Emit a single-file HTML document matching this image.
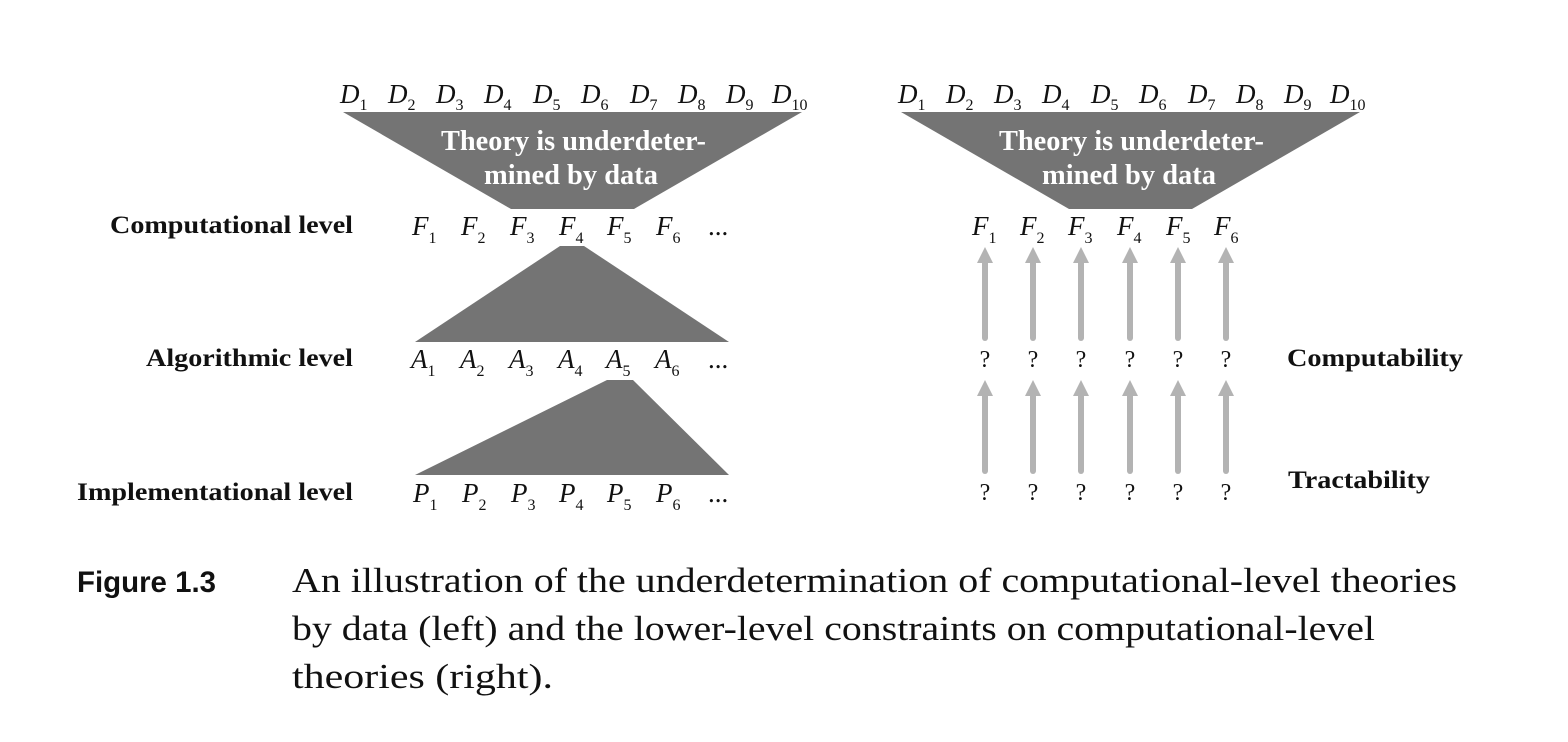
<!DOCTYPE html>
<html><head><meta charset="utf-8"><style>
html,body{margin:0;padding:0;background:#fff;}
svg{display:block;}
.it{font-family:"Liberation Serif",serif;font-style:italic;font-size:27px;fill:#111;}
.sub{font-family:"Liberation Serif",serif;font-style:normal;font-size:16px;}
.lvl{font-family:"Liberation Serif",serif;font-weight:bold;font-size:25px;fill:#111;}
.wt{font-family:"Liberation Serif",serif;font-weight:bold;font-size:28px;fill:#fff;}
.q{font-family:"Liberation Serif",serif;font-size:24px;fill:#111;}
.cap{font-family:"Liberation Serif",serif;font-size:35px;fill:#111;}
.fig{font-family:"Liberation Sans",sans-serif;font-weight:bold;font-size:30px;fill:#111;}
</style></head><body>
<svg width="1568" height="742" viewBox="0 0 1568 742">
<defs>
<g id="arr"><rect x="-3" y="259" width="6" height="82" rx="3" fill="#b3b3b3"/><polygon points="0,247 -8,263 8,263" fill="#b3b3b3"/></g>
<g id="arr2"><rect x="-3" y="392" width="6" height="82" rx="3" fill="#b3b3b3"/><polygon points="0,380 -8,396 8,396" fill="#b3b3b3"/></g>
</defs>
<polygon points="343,112 802,112 634,209 511,209" fill="#747474"/>
<text class="wt" x="441" y="150" textLength="265" lengthAdjust="spacingAndGlyphs">Theory is underdeter-</text>
<text class="wt" x="484" y="184" textLength="174" lengthAdjust="spacingAndGlyphs">mined by data</text>
<polygon points="560,246 584,246 729,342 415,342" fill="#747474"/>
<polygon points="607,380 633,380 729,475 415,475" fill="#747474"/>
<polygon points="901,112 1360,112 1192,209 1069,209" fill="#747474"/>
<text class="wt" x="999" y="150" textLength="265" lengthAdjust="spacingAndGlyphs">Theory is underdeter-</text>
<text class="wt" x="1042" y="184" textLength="174" lengthAdjust="spacingAndGlyphs">mined by data</text>
<g class="it">
<text x="340" y="103">D<tspan class="sub" dy="7">1</tspan></text>
<text x="388" y="103">D<tspan class="sub" dy="7">2</tspan></text>
<text x="436" y="103">D<tspan class="sub" dy="7">3</tspan></text>
<text x="484" y="103">D<tspan class="sub" dy="7">4</tspan></text>
<text x="533" y="103">D<tspan class="sub" dy="7">5</tspan></text>
<text x="581" y="103">D<tspan class="sub" dy="7">6</tspan></text>
<text x="630" y="103">D<tspan class="sub" dy="7">7</tspan></text>
<text x="678" y="103">D<tspan class="sub" dy="7">8</tspan></text>
<text x="726" y="103">D<tspan class="sub" dy="7">9</tspan></text>
<text x="772" y="103">D<tspan class="sub" dy="7">10</tspan></text>
<text x="898" y="103">D<tspan class="sub" dy="7">1</tspan></text>
<text x="946" y="103">D<tspan class="sub" dy="7">2</tspan></text>
<text x="994" y="103">D<tspan class="sub" dy="7">3</tspan></text>
<text x="1042" y="103">D<tspan class="sub" dy="7">4</tspan></text>
<text x="1091" y="103">D<tspan class="sub" dy="7">5</tspan></text>
<text x="1139" y="103">D<tspan class="sub" dy="7">6</tspan></text>
<text x="1188" y="103">D<tspan class="sub" dy="7">7</tspan></text>
<text x="1236" y="103">D<tspan class="sub" dy="7">8</tspan></text>
<text x="1284" y="103">D<tspan class="sub" dy="7">9</tspan></text>
<text x="1330" y="103">D<tspan class="sub" dy="7">10</tspan></text>
<text x="412" y="235">F<tspan class="sub" dy="8">1</tspan></text>
<text x="461" y="235">F<tspan class="sub" dy="8">2</tspan></text>
<text x="510" y="235">F<tspan class="sub" dy="8">3</tspan></text>
<text x="559" y="235">F<tspan class="sub" dy="8">4</tspan></text>
<text x="607" y="235">F<tspan class="sub" dy="8">5</tspan></text>
<text x="656" y="235">F<tspan class="sub" dy="8">6</tspan></text>
<text x="708" y="235" style="font-style:normal">...</text>
<text x="972" y="235">F<tspan class="sub" dy="8">1</tspan></text>
<text x="1020" y="235">F<tspan class="sub" dy="8">2</tspan></text>
<text x="1068" y="235">F<tspan class="sub" dy="8">3</tspan></text>
<text x="1117" y="235">F<tspan class="sub" dy="8">4</tspan></text>
<text x="1166" y="235">F<tspan class="sub" dy="8">5</tspan></text>
<text x="1214" y="235">F<tspan class="sub" dy="8">6</tspan></text>
<text x="411" y="368">A<tspan class="sub" dy="8">1</tspan></text>
<text x="460" y="368">A<tspan class="sub" dy="8">2</tspan></text>
<text x="509" y="368">A<tspan class="sub" dy="8">3</tspan></text>
<text x="558" y="368">A<tspan class="sub" dy="8">4</tspan></text>
<text x="606" y="368">A<tspan class="sub" dy="8">5</tspan></text>
<text x="655" y="368">A<tspan class="sub" dy="8">6</tspan></text>
<text x="708" y="368" style="font-style:normal">...</text>
<text x="413" y="502">P<tspan class="sub" dy="8">1</tspan></text>
<text x="462" y="502">P<tspan class="sub" dy="8">2</tspan></text>
<text x="511" y="502">P<tspan class="sub" dy="8">3</tspan></text>
<text x="559" y="502">P<tspan class="sub" dy="8">4</tspan></text>
<text x="607" y="502">P<tspan class="sub" dy="8">5</tspan></text>
<text x="656" y="502">P<tspan class="sub" dy="8">6</tspan></text>
<text x="708" y="502" style="font-style:normal">...</text>
</g>
<text class="lvl" x="110" y="233" textLength="243" lengthAdjust="spacingAndGlyphs">Computational level</text>
<text class="lvl" x="146" y="366" textLength="207" lengthAdjust="spacingAndGlyphs">Algorithmic level</text>
<text class="lvl" x="77" y="500" textLength="276" lengthAdjust="spacingAndGlyphs">Implementational level</text>
<text class="lvl" x="1287" y="366" textLength="176" lengthAdjust="spacingAndGlyphs">Computability</text>
<text class="lvl" x="1288" y="488" textLength="142" lengthAdjust="spacingAndGlyphs">Tractability</text>
<use href="#arr" x="985"/><use href="#arr" x="1033"/><use href="#arr" x="1081"/><use href="#arr" x="1130"/><use href="#arr" x="1178"/><use href="#arr" x="1226"/>
<use href="#arr2" x="985"/><use href="#arr2" x="1033"/><use href="#arr2" x="1081"/><use href="#arr2" x="1130"/><use href="#arr2" x="1178"/><use href="#arr2" x="1226"/>
<g class="q" text-anchor="middle">
<text x="985" y="367">?</text><text x="1033" y="367">?</text><text x="1081" y="367">?</text><text x="1130" y="367">?</text><text x="1178" y="367">?</text><text x="1226" y="367">?</text>
<text x="985" y="500">?</text><text x="1033" y="500">?</text><text x="1081" y="500">?</text><text x="1130" y="500">?</text><text x="1178" y="500">?</text><text x="1226" y="500">?</text>
</g>
<text class="fig" x="77" y="592" textLength="139" lengthAdjust="spacingAndGlyphs">Figure 1.3</text>
<text class="cap" x="292" y="592" textLength="1165" lengthAdjust="spacingAndGlyphs">An illustration of the underdetermination of computational-level theories</text>
<text class="cap" x="292" y="640" textLength="1083" lengthAdjust="spacingAndGlyphs">by data (left) and the lower-level constraints on computational-level</text>
<text class="cap" x="292" y="688" textLength="261" lengthAdjust="spacingAndGlyphs">theories (right).</text>
</svg>
</body></html>
